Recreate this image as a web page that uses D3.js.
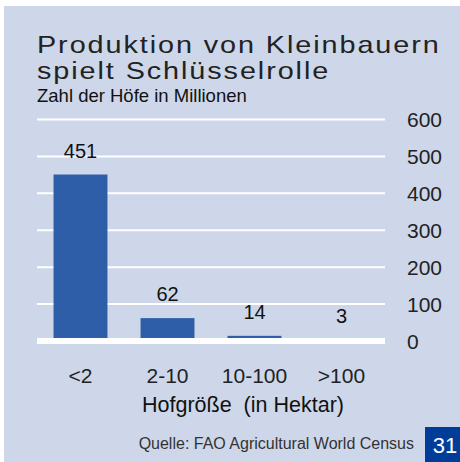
<!DOCTYPE html>
<html>
<head>
<meta charset="utf-8">
<script src="https://cdn.jsdelivr.net/npm/d3@7"></script>
<style>
  body { margin: 0; background: #fff; }
  text { font-family: "Liberation Sans", Arial, sans-serif; }
</style>
</head>
<body>
<svg id="chart" width="460" height="462"></svg>
<script>
var categories = ['<2', '2-10', '10-100', '>100'];
var farms = [451, 62, 14, 3];
var yTicks = [0, 100, 200, 300, 400, 500, 600];

var svg = d3.select('#chart');
var width = +svg.attr('width');
var height = +svg.attr('height');
var margin = { top: 119.5, right: 75, bottom: 121, left: 37 };

// background panel
svg.append('rect')
  .attr('x', 4).attr('y', 6)
  .attr('width', width - 4).attr('height', height - 6)
  .attr('fill', '#cdd7e9');

// titles (wide face -> stretch horizontally)
['Produktion von Kleinbauern', 'spielt Schlüsselrolle'].forEach(function(t, i) {
  svg.append('text')
    .attr('transform', 'translate(37,' + (53 + i * 26) + ') scale(1.2,1)')
    .attr('font-size', 24).attr('letter-spacing', 1.6)
    .attr('fill', '#222')
    .text(t);
});
svg.append('text')
  .attr('x', 37).attr('y', 101.5)
  .attr('font-size', 18.5)
  .attr('fill', '#111')
  .text('Zahl der Höfe in Millionen');

// scales
var x = d3.scaleBand()
  .domain(categories)
  .range([margin.left, width - margin.right])
  .paddingInner(0.38)
  .paddingOuter(0.19);
var y = d3.scaleLinear()
  .domain([0, 600])
  .range([height - margin.bottom, margin.top]);

// gridlines
svg.selectAll('.grid')
  .data(yTicks.filter(function(d) { return d > 0; }))
  .enter().append('line')
  .attr('class', 'grid')
  .attr('x1', margin.left).attr('x2', width - margin.right)
  .attr('y1', function(d) { return y(d); })
  .attr('y2', function(d) { return y(d); })
  .attr('stroke', '#fff')
  .attr('stroke-width', 2);

// bars
svg.selectAll('.bar')
  .data(farms)
  .enter().append('rect')
  .attr('class', 'bar')
  .attr('x', function(d, i) { return x(categories[i]); })
  .attr('y', function(d) { return y(d); })
  .attr('width', x.bandwidth())
  .attr('height', function(d) { return y(0) - y(d); })
  .attr('fill', '#2f5ea9');

// baseline
svg.append('line')
  .attr('x1', margin.left).attr('x2', width - margin.right)
  .attr('y1', y(0)).attr('y2', y(0))
  .attr('stroke', '#fff')
  .attr('stroke-width', 6);

// value labels
svg.selectAll('.value')
  .data(farms)
  .enter().append('text')
  .attr('class', 'value')
  .attr('x', function(d, i) { return x(categories[i]) + x.bandwidth() / 2; })
  .attr('y', function(d) { return y(d) - 17; })
  .attr('text-anchor', 'middle')
  .attr('font-size', 20)
  .attr('fill', '#111')
  .text(function(d) { return d; });

// right axis
var yAxis = svg.append('g')
  .attr('transform', 'translate(' + (width - margin.right + 22) + ',0)')
  .call(d3.axisRight(y).tickValues(yTicks).tickSize(0).tickPadding(0));
yAxis.select('.domain').remove();
yAxis.selectAll('text')
  .attr('font-size', 21)
  .attr('font-family', '"Liberation Sans", Arial, sans-serif')
  .attr('fill', '#222')
  .attr('dy', '0.35em');

// bottom axis
var xAxis = svg.append('g')
  .attr('transform', 'translate(0,' + (y(0) + 27) + ')')
  .call(d3.axisBottom(x).tickSize(0).tickPadding(0));
xAxis.select('.domain').remove();
xAxis.selectAll('text')
  .attr('font-size', 21)
  .attr('font-family', '"Liberation Sans", Arial, sans-serif')
  .attr('fill', '#222');

svg.append('text')
  .attr('x', 243).attr('y', 411.5)
  .attr('text-anchor', 'middle')
  .attr('font-size', 21.5)
  .attr('fill', '#111')
  .attr('xml:space', 'preserve')
  .text('Hofgröße  (in Hektar)');

// source + page number
svg.append('text')
  .attr('x', 414).attr('y', 449)
  .attr('text-anchor', 'end')
  .attr('font-size', 16)
  .attr('fill', '#333')
  .text('Quelle: FAO Agricultural World Census');
svg.append('rect')
  .attr('x', 425).attr('y', 427)
  .attr('width', 35).attr('height', 35)
  .attr('fill', '#003d99');
svg.append('text')
  .attr('x', 445).attr('y', 452.5)
  .attr('text-anchor', 'middle')
  .attr('font-size', 22)
  .attr('fill', '#fff')
  .text('31');
</script>
</body>
</html>
